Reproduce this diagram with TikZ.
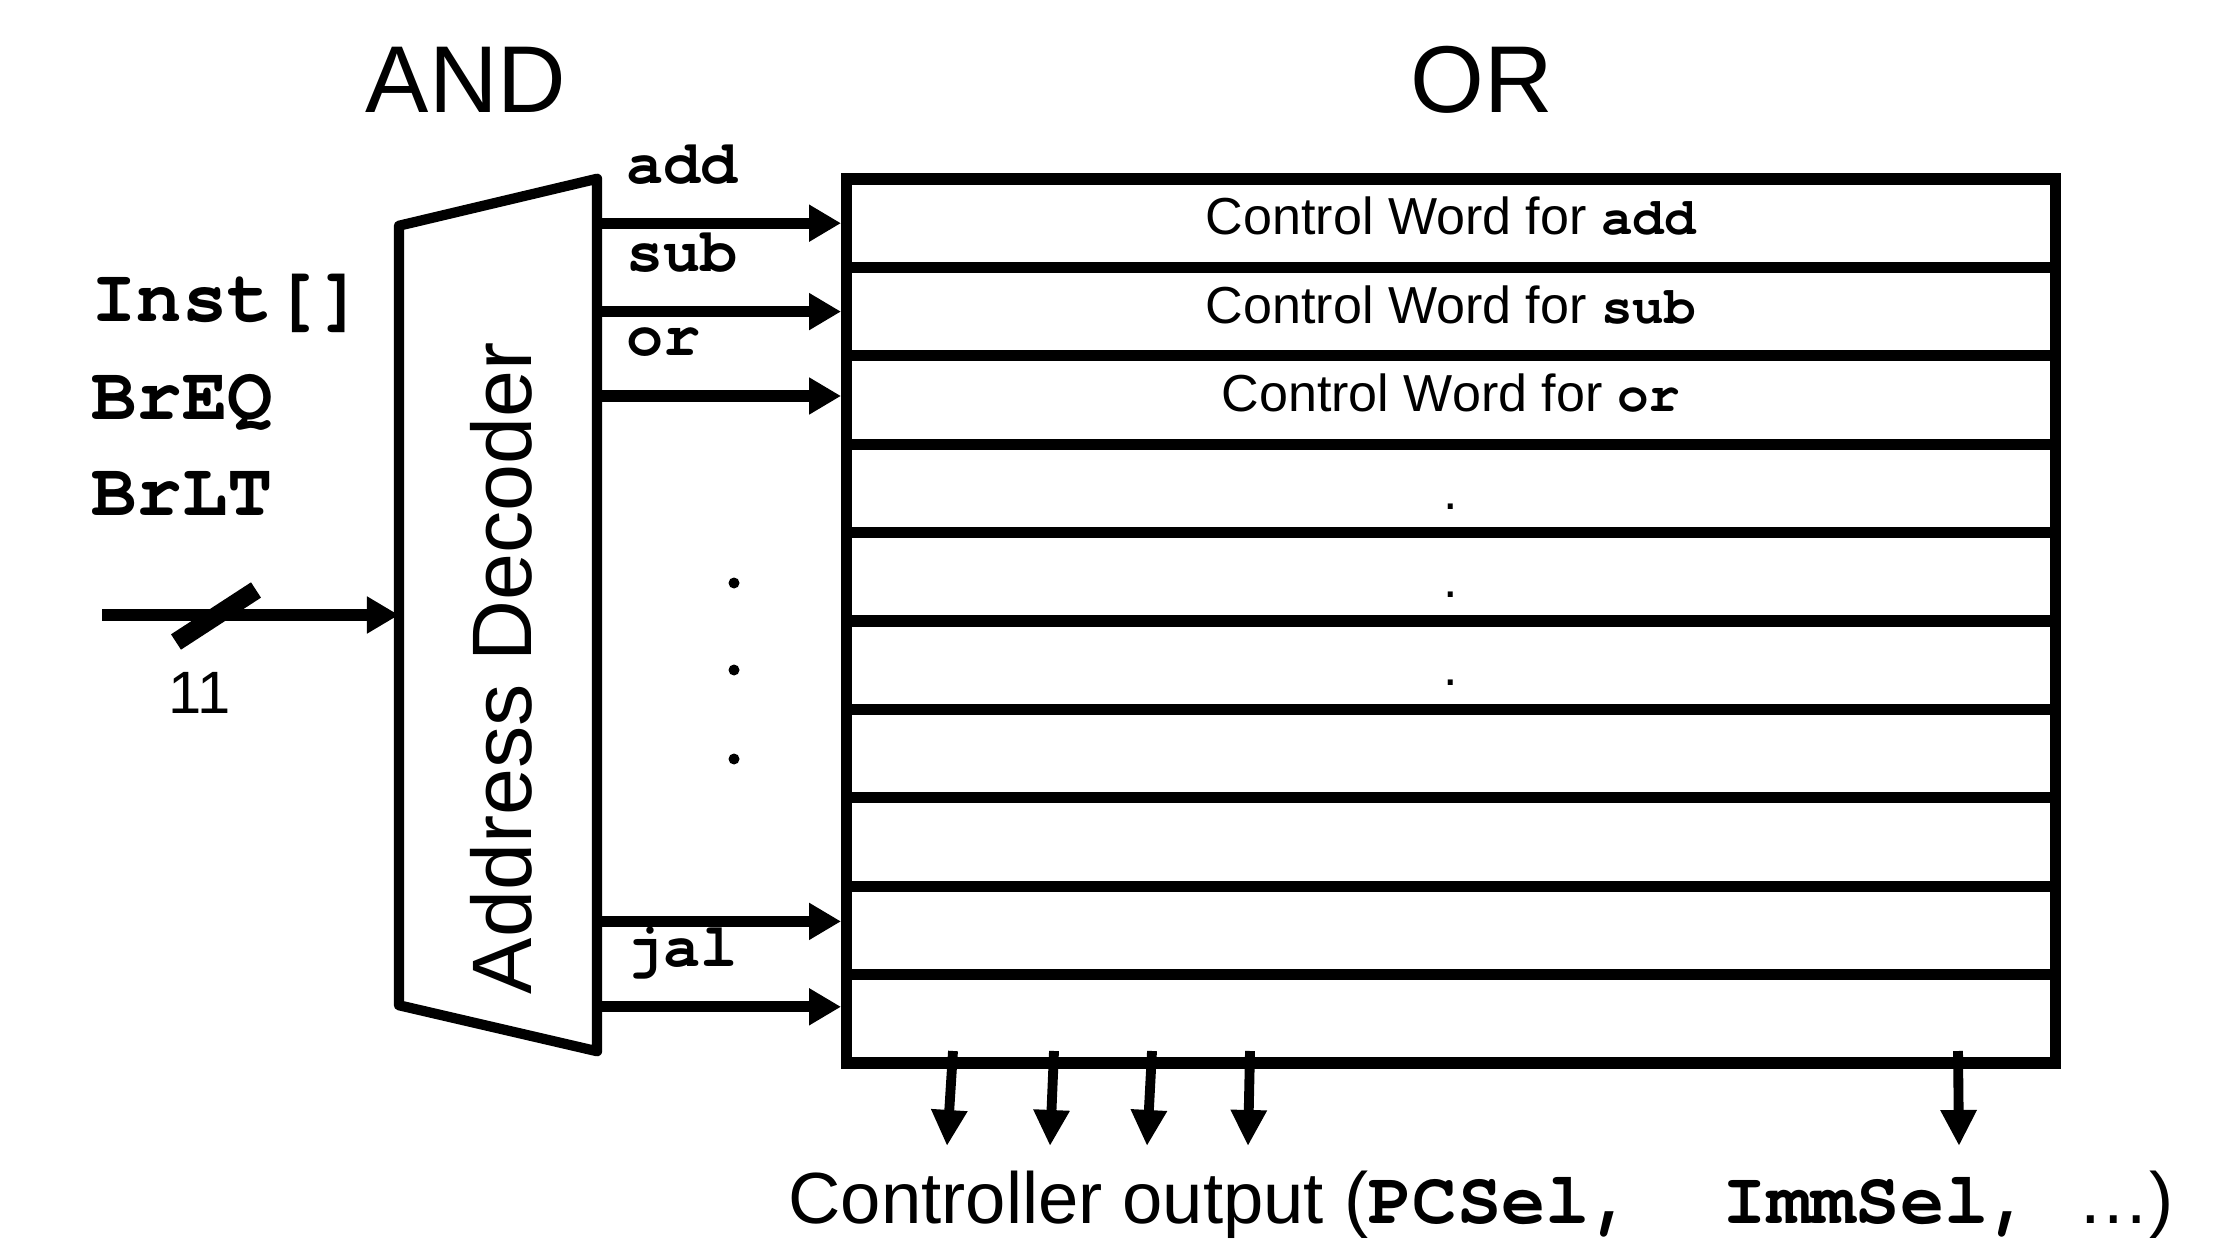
\documentclass[tikz,border=0pt]{standalone}
\usepackage{fontspec}
\setmainfont{Liberation Sans}
\setmonofont{texgyrecursor}[Extension=.otf, UprightFont=*-regular, BoldFont=*-bold]
\usepackage{tikz}
\usetikzlibrary{calc,arrows.meta,positioning}

\newcommand{\cw}[1]{{\fontsize{15}{16}\selectfont\ttfamily\bfseries #1}}
\newcommand{\rowdot}{\raisebox{-0.09cm}{.}}

\begin{document}
\begin{tikzpicture}[x=0.01cm, y=-0.01cm,
       >={Triangle[length=0.32cm,width=0.35cm]}, line width=3.2pt, text=black,
       every node/.style={inner sep=0pt},
       romrow/.style={rectangle, draw, minimum width=12.08cm, minimum height=0.884cm,
                      font=\fontsize{14.8}{16}\selectfont, text height=1.5ex, text depth=.25ex},
       decframe/.style={rectangle, outer sep=0pt, minimum width=1.98cm, minimum height=8.72cm},
       wire/.style={->},
       outwire/.style={-{Triangle[length=0.36cm,width=0.34cm]}, line width=2.8pt},
       opname/.style={font=\fontsize{17.6}{20}\selectfont\ttfamily\bfseries, anchor=base west},
       signame/.style={font=\fontsize{21.5}{24}\selectfont\ttfamily\bfseries, anchor=base west},
       plane/.style={font=\fontsize{27}{30}\selectfont}]
	\useasboundingbox (0,0) rectangle (2213,1240);

	%% Plane titles
	\node [plane] (andlbl) at (466,80) {AND};
	\node [plane] (orlbl) at (1482,80) {OR};

	%% Inputs
	\node [signame] (inst) at (86,322) {Inst[]};
	\node [signame] (breq) at (86,420) {BrEQ};
	\node [signame] (brlt) at (86,516) {BrLT};

	%% Address decoder
	\node [decframe] (dec) at (498,615) {};
	\draw[line width=2.9pt, line join=round] (dec.north east) -- (dec.south east)
	      -- ($(dec.south west)+(0,-46)$) -- ($(dec.north west)+(0,47)$) -- cycle;
	\node [rotate=90, font=\fontsize{24}{26}\selectfont] (declbl) at (501,668) {Address Decoder};

	%% ROM rows
	\foreach \i/\txt in {1/{Control Word for \cw{add}}, 2/{Control Word for \cw{sub}},
	                     3/{Control Word for \cw{or}}, 4/\rowdot, 5/\rowdot, 6/\rowdot,
	                     7/{}, 8/{}, 9/{}, 10/{}}
		\node [romrow] (row\i) at (1451,{179+88.4*(\i-0.5)}) {\txt};

	%% Input bus
	\coordinate (inp) at (102,615);
	\draw[wire] (inp) -- (inp -| dec.west);
	\coordinate (bus) at (216,616);
	\draw[line width=5.2pt] ($(bus)+(-40,26)$) -- ($(bus)+(40,-26)$);
	\node [font=\fontsize{17}{20}\selectfont] (buswidth) at (200,693) {11};

	%% Word lines
	\foreach \i/\op/\dy in {1/add/0, 2/sub/0, 3/or/0.04, 10/jal/0.12}
		\draw[wire] ([yshift=\dy cm]dec.east |- row\i.west) --
		      node[opname, pos=0, shift={(24,-40)}] {\op} ([yshift=\dy cm]row\i.west);
	\draw[wire] ([yshift=0.09cm]dec.east |- row9.west) -- ([yshift=0.09cm]row9.west);
	\foreach \y in {583,670,759}
		\fill (734,\y) circle (5.5);

	%% Outputs
	\foreach \xa/\xb [count=\k] in {953/947, 1054/1050, 1152/1147, 1250/1248, 1958/1959} {
		\coordinate (top\k) at (\xa,1051);
		\coordinate (out\k) at (\xb,1146);
		\draw[outwire] (top\k) -- (out\k);
	}
	\node [anchor=base west, font=\fontsize{20.6}{24}\selectfont] (ctrlout) at (783,1223)
	      {Controller output (\texttt{\fontsize{21}{24}\selectfont\bfseries PCSel,~ ImmSel,\ }\ldots)};
\end{tikzpicture}
\end{document}
